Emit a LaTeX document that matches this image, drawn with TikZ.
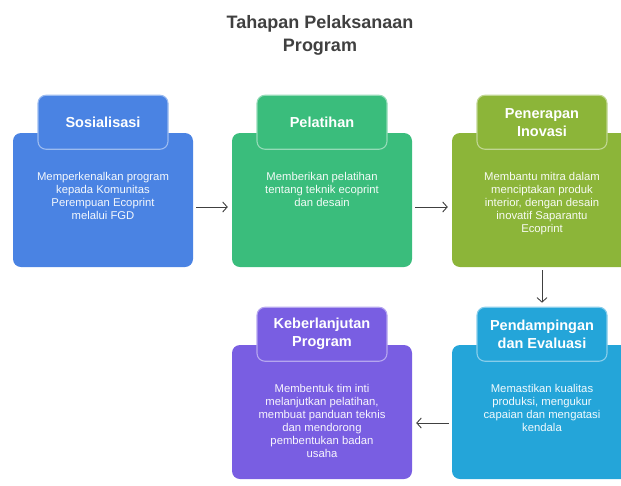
\documentclass[tikz,border=0pt]{standalone}
\usepackage{fontspec}
\setmainfont{Liberation Sans}
\usetikzlibrary{arrows.meta, positioning}
\definecolor{sosblue}{RGB}{74,131,227}
\definecolor{latgreen}{RGB}{58,189,124}
\definecolor{inoolive}{RGB}{140,181,57}
\definecolor{evalcyan}{RGB}{36,165,217}
\definecolor{lanjutpurple}{RGB}{121,94,226}
\definecolor{titlegray}{RGB}{64,64,64}

\begin{document}
\begin{tikzpicture}[x=1pt, y=-1pt]
      % Styles for the stages
      \tikzset{stagebody/.style={fill=#1, draw=none, rounded corners=8pt, minimum width=180pt, minimum height=134pt, inner sep=0pt}}
      \tikzset{stagehead/.style={fill=#1, draw=white!45!#1, line width=1.1pt, rounded corners=8pt, minimum width=130pt, minimum height=54pt, inner sep=0pt, align=center, text=white, font=\fontsize{14.5}{18}\selectfont\bfseries}}
      \tikzset{stagetext/.style={align=center, inner sep=0pt, text=white!94!#1, font=\fontsize{11.3}{13}\selectfont}}
      \tikzset{flow/.style={draw=titlegray, line width=0.9pt, -{Straight Barb[length=4.5pt,width=10pt]}, shorten <=3pt, shorten >=4pt}}

      \useasboundingbox (0,0) rectangle (621,485);
      \clip (0,0) rectangle (621,485);

      % Title
      \node[align=center, text=titlegray, font=\fontsize{18}{23}\selectfont\bfseries] (title) at (320,35) {Tahapan Pelaksanaan\\Program};

      % --- Top row ---
      \node[stagebody=sosblue] (b1) at (103,200) {};
      \node[stagehead=sosblue, above=-17pt of b1.north] (h1) {Sosialisasi};
      \node[stagetext=sosblue, below=39pt of b1.north] (t1) {Memperkenalkan program\\kepada Komunitas\\Perempuan Ecoprint\\melalui FGD};

      \node[stagebody=latgreen] (b2) at (322,200) {};
      \node[stagehead=latgreen, above=-17pt of b2.north] (h2) {Pelatihan};
      \node[stagetext=latgreen, below=39pt of b2.north] (t2) {Memberikan pelatihan\\tentang teknik ecoprint\\dan desain};

      \node[stagebody=inoolive] (b3) at (542,200) {};
      \node[stagehead=inoolive, above=-17pt of b3.north] (h3) {Penerapan\\Inovasi};
      \node[stagetext=inoolive, below=39pt of b3.north] (t3) {Membantu mitra dalam\\menciptakan produk\\interior, dengan desain\\inovatif Saparantu\\Ecoprint};

      % --- Bottom row ---
      \node[stagebody=evalcyan] (b4) at (542,412) {};
      \node[stagehead=evalcyan, above=-17pt of b4.north] (h4) {Pendampingan\\dan Evaluasi};
      \node[stagetext=evalcyan, below=39pt of b4.north] (t4) {Memastikan kualitas\\produksi, mengukur\\capaian dan mengatasi\\kendala};

      \node[stagebody=lanjutpurple] (b5) at (322,412) {};
      \node[stagehead=lanjutpurple, above=-17pt of b5.north] (h5) {Keberlanjutan\\Program};
      \node[stagetext=lanjutpurple, below=39pt of b5.north] (t5) {Membentuk tim inti\\melanjutkan pelatihan,\\membuat panduan teknis\\dan mendorong\\pembentukan badan\\usaha};

      % Connectors
      \draw[flow] ([yshift=-7pt]b1.east) -- ([yshift=-7pt]b2.west);
      \draw[flow] ([yshift=-7pt]b2.east) -- ([yshift=-7pt]b3.west);
      \draw[flow] (b3.south) -- (h4.north);
      \draw[flow] ([yshift=-11pt]b4.west) -- ([yshift=-11pt]b5.east);
\end{tikzpicture}
\end{document}
